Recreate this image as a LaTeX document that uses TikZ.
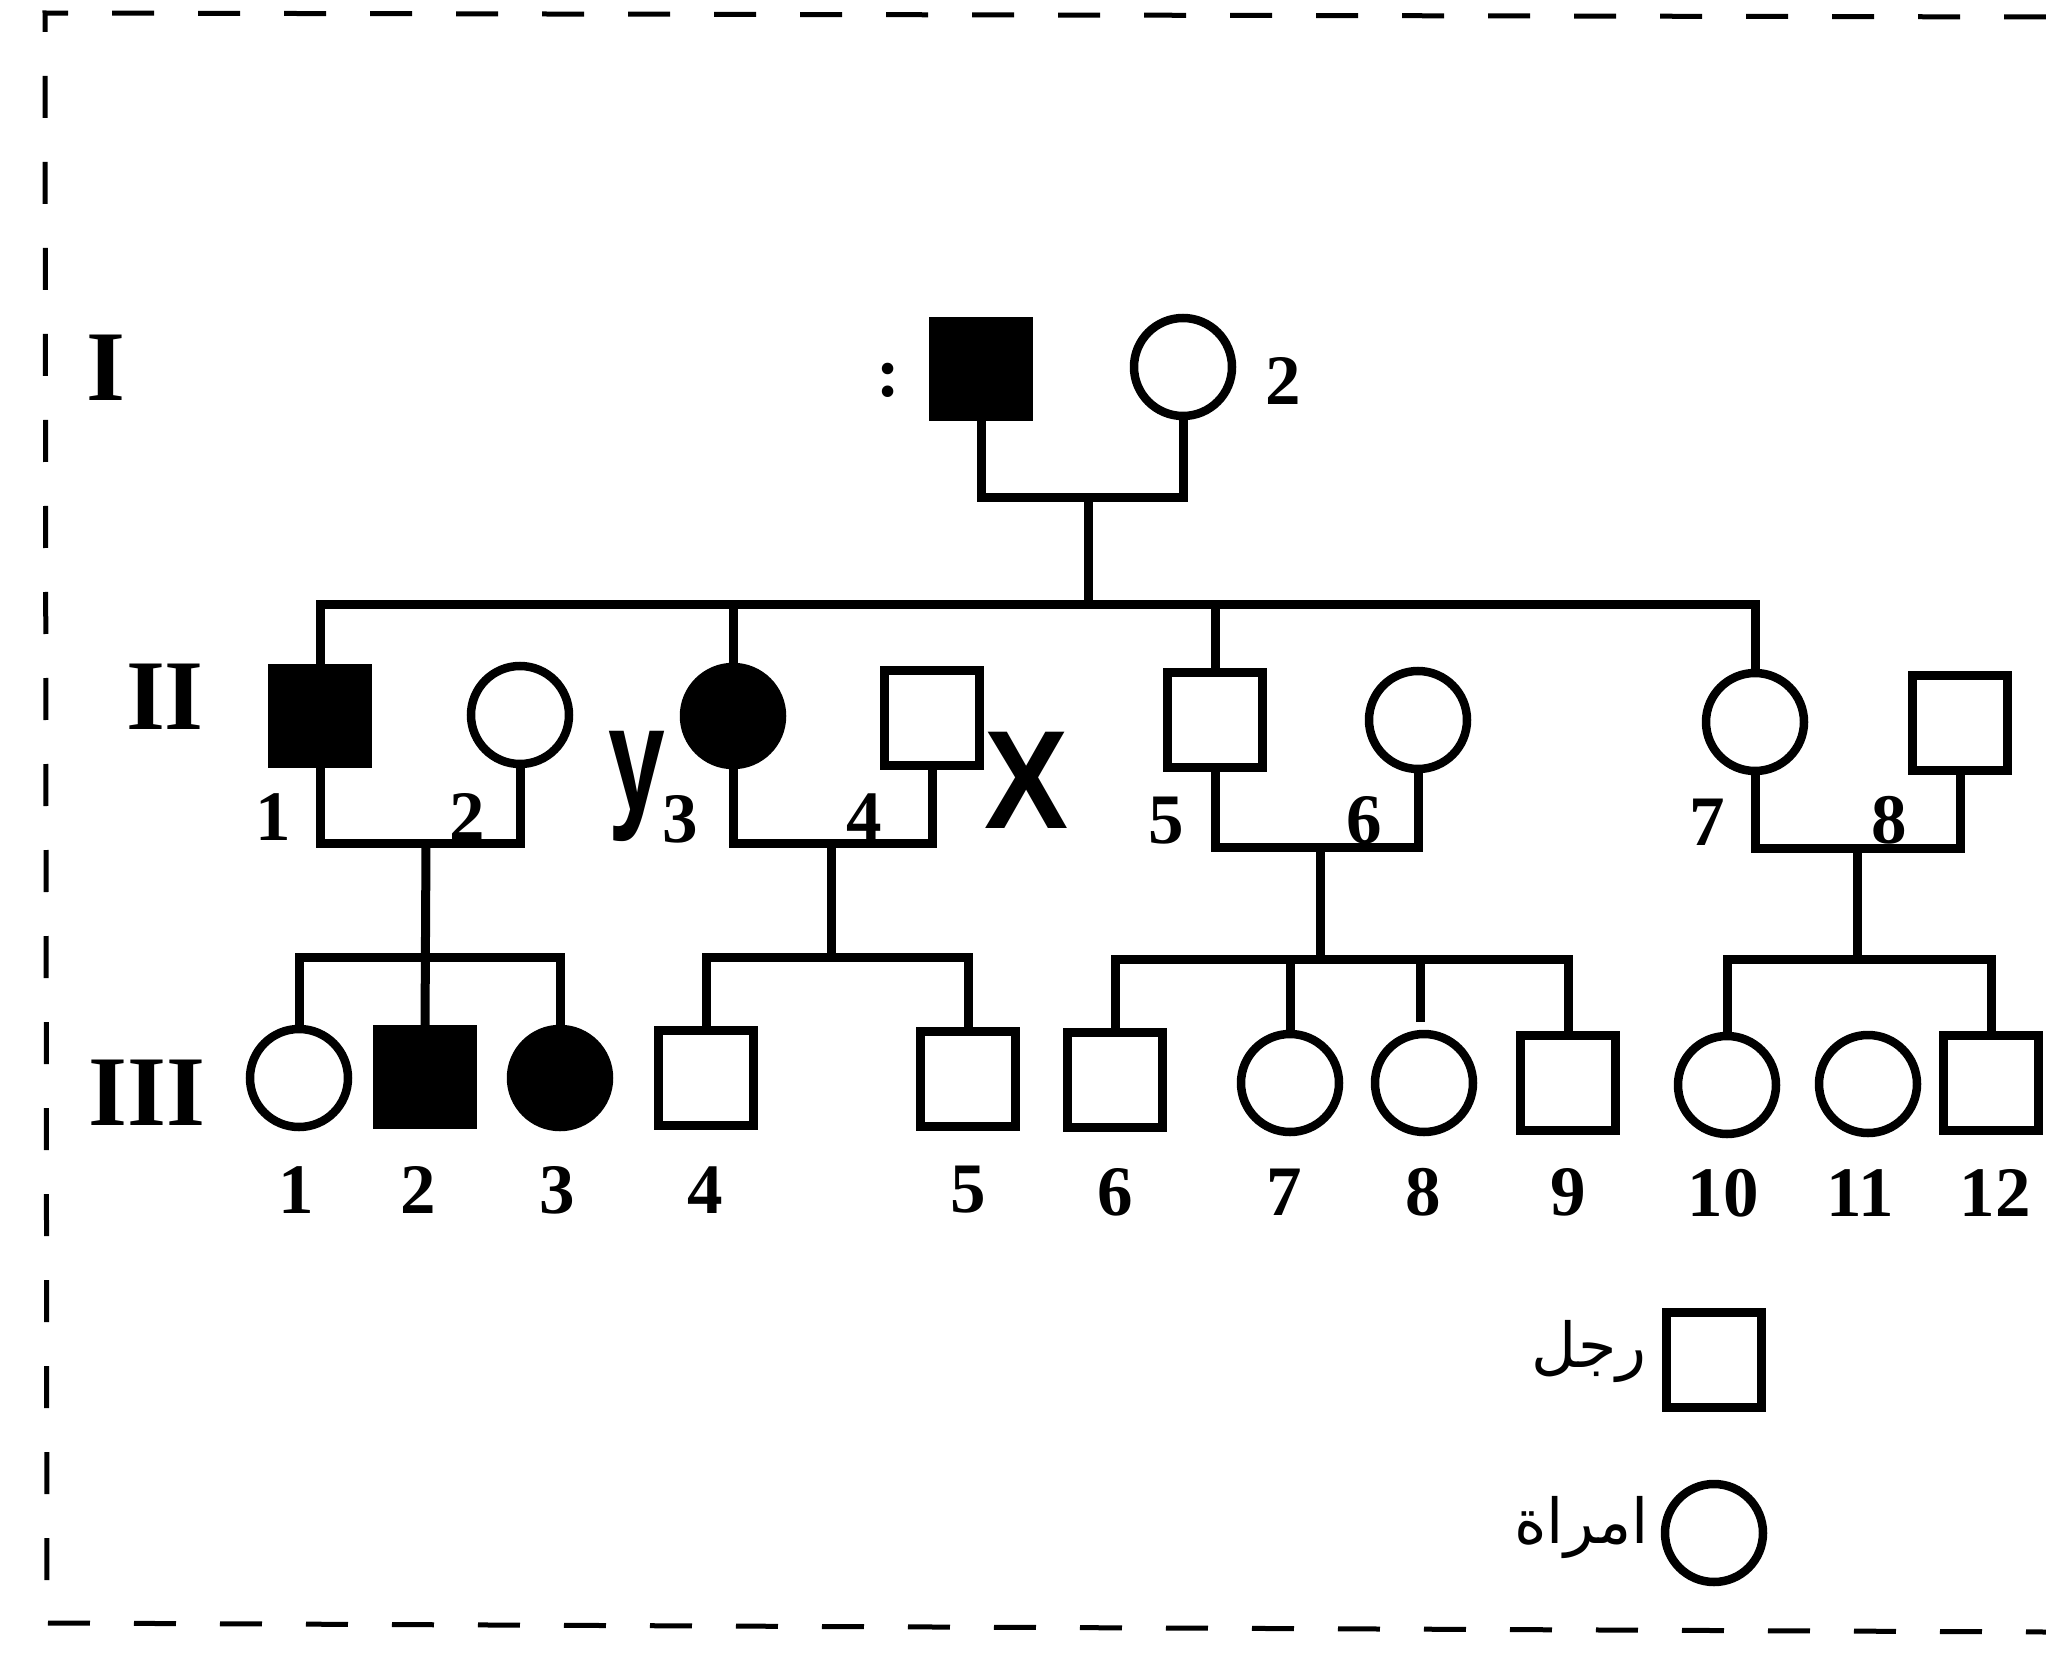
\documentclass[tikz,border=0pt]{standalone}
\usepackage{fontspec}
\setmainfont{Liberation Serif}
\newfontfamily\arabicfont[Script=Arabic]{DejaVu Sans}
\newfontfamily\handfont{Liberation Sans}
\TeXXeTstate=1
\begin{document}
\begin{tikzpicture}[x=1pt,y=-1pt,
  male/.style={draw, rectangle, line width=8.5pt, minimum size=95pt, inner sep=0pt, outer sep=0pt},
  female/.style={draw, circle, line width=8.5pt, minimum size=98pt, inner sep=0pt, outer sep=0pt},
  aff/.style={fill=black},
  lbl/.style={font=\fontsize{71}{80}\selectfont\bfseries, inner sep=0pt},
  gen/.style={font=\fontsize{100}{110}\selectfont\bfseries, inner sep=0pt},
  link/.style={line width=9pt},
  frame/.style={line width=5pt, dash pattern=on 42pt off 44pt},
  arab/.style={inner sep=0pt, anchor=east}
]
\useasboundingbox (0,0) rectangle (2046,1656);
\fill[white] (0,0) rectangle (2046,1656);

% frame
\draw[frame] (2046,17) -- (45,13) -- (47,1623) -- (2046,1632);

% generation labels
\node[gen] (gI) at (106,368) {I};
\node[gen] (gII) at (165,697) {II};
\node[gen] (gIII) at (147,1093) {III};

% generation I
\node[male,aff] (I1) at (981,369) {};
\node[female] (I2) at (1183,367) {};
\node[lbl] (lI1) at (888,380) {:};
\node[lbl] (lI2) at (1283,381) {2};

% generation II
\node[male,aff] (II1) at (320,716) {};
\node[female] (II2) at (520,715) {};
\node[female,aff] (II3) at (733,716) {};
\node[male] (II4) at (932,718) {};
\node[male] (II5) at (1215,720) {};
\node[female] (II6) at (1418,720) {};
\node[female] (II7) at (1755,722) {};
\node[male] (II8) at (1960,723) {};

\node[lbl] (lII1) at (273,817) {1};
\node[lbl] (lII2) at (467,817) {2};
\node[lbl] (lII3) at (680,819) {3};
\node[lbl] (lII4) at (864,817) {4};
\node[lbl] (lII5) at (1166,821) {5};
\node[lbl] (lII6) at (1364,820) {6};
\node[lbl] (lII7) at (1707,822) {7};
\node[lbl] (lII8) at (1889,820) {8};

\node[inner sep=0pt, font=\handfont\bfseries\fontsize{150}{160}\selectfont, xscale=0.68] (ymark) at (637,786) {y};
\node[inner sep=0pt, font=\handfont\bfseries\fontsize{140}{150}\selectfont, xscale=0.9] (xmark) at (1027,780) {X};

% generation III
\node[female] (III1) at (299,1078) {};
\node[male,aff] (III2) at (425,1077) {};
\node[female,aff] (III3) at (560,1078) {};
\node[male] (III4) at (706,1078) {};
\node[male] (III5) at (968,1079) {};
\node[male] (III6) at (1115,1080) {};
\node[female] (III7) at (1290,1083) {};
\node[female] (III8) at (1424,1083) {};
\node[male] (III9) at (1568,1083) {};
\node[female] (III10) at (1727,1085) {};
\node[female] (III11) at (1868,1084) {};
\node[male] (III12) at (1991,1083) {};

\node[lbl] (lIII1) at (296,1190) {1};
\node[lbl] (lIII2) at (418,1190) {2};
\node[lbl] (lIII3) at (557,1190) {3};
\node[lbl] (lIII4) at (705,1190) {4};
\node[lbl] (lIII5) at (968,1190) {5};
\node[lbl] (lIII6) at (1115,1192) {6};
\node[lbl] (lIII7) at (1284,1192) {7};
\node[lbl] (lIII8) at (1423,1192) {8};
\node[lbl] (lIII9) at (1568,1192) {9};
\node[lbl] (lIII10) at (1723,1193) {10};
\node[lbl] (lIII11) at (1860,1193) {11};
\node[lbl] (lIII12) at (1995,1193) {12};

% connector coordinates
\coordinate (mI) at (1088,497);
\coordinate (sII) at (1088,604);
\coordinate (m1) at (426,843);
\coordinate (s1) at (426,957);
\coordinate (m2) at (831,843);
\coordinate (s2) at (831,957);
\coordinate (m3) at (1320,847);
\coordinate (s3) at (1320,959);
\coordinate (m4) at (1857,848);
\coordinate (s4) at (1857,959);
\coordinate (e8) at (1420,1022);

% generation I couple and sibship
\draw[link] (I1.south) |- (mI) -| (I2.south);
\draw[link] (mI) -- (sII);
\draw[link] (II1.north) |- (sII) -| (II7.north);
\draw[link] (II3.north) -- (II3.north |- sII);
\draw[link] (II5.north) -- (II5.north |- sII);

% II-1 x II-2
\draw[link] (II1.south) |- (m1) -| (II2.south);
\draw[link] (m1) -- (III2.north);
\draw[link] (III1.north) |- (s1) -| (III3.north);

% II-3 x II-4
\draw[link] (II3.south) |- (m2) -| (II4.south);
\draw[link] (m2) -- (s2);
\draw[link] (III4.north) |- (s2) -| (III5.north);

% II-5 x II-6
\draw[link] (II5.south) |- (m3) -| (II6.south);
\draw[link] (m3) -- (s3);
\draw[link] (III6.north) |- (s3) -| (III9.north);
\draw[link] (III7.north) -- (III7.north |- s3);
\draw[link] (e8) -- (e8 |- s3);

% II-7 x II-8
\draw[link] (II7.south) |- (m4) -| (II8.south);
\draw[link] (m4) -- (s4);
\draw[link] (III10.north) |- (s4) -| (III12.north);

% legend
\node[male] (legm) at (1714,1360) {};
\node[female] (legf) at (1714,1533) {};
\node[arab, font=\arabicfont\fontsize{62}{70}\selectfont] (legmt) at (1647,1352) {\beginR رجل\endR};
\node[arab, font=\arabicfont\fontsize{62}{70}\selectfont] (legft) at (1649,1528) {\beginR امراة\endR};
\end{tikzpicture}
\end{document}
